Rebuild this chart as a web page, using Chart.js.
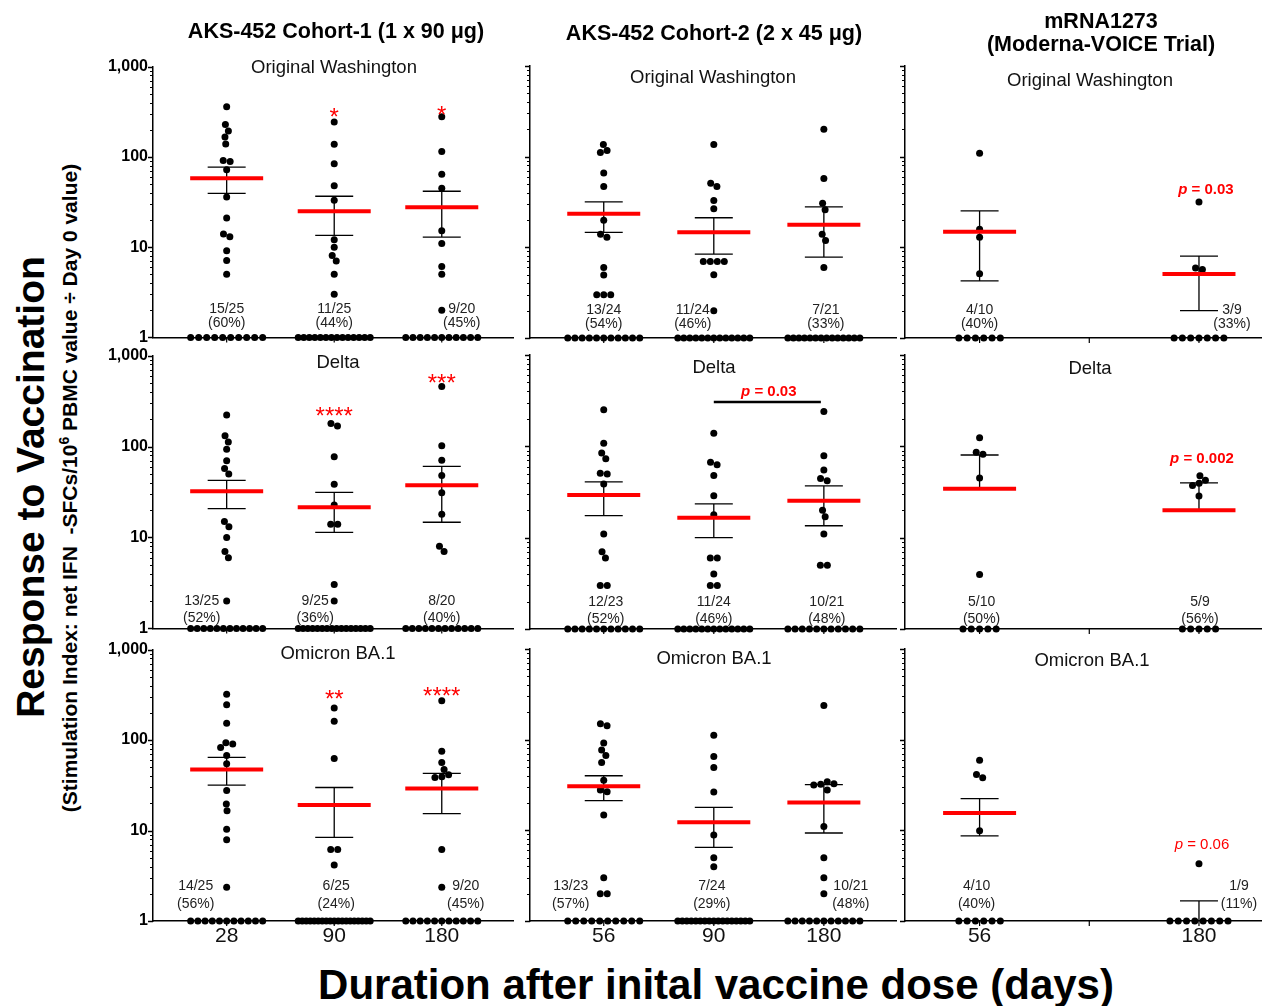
<!DOCTYPE html>
<html>
<head>
<meta charset="utf-8">
<script src="https://cdn.jsdelivr.net/npm/chart.js@4.4.0/dist/chart.umd.min.js"></script>
<style>
  body { margin: 0; background: #fff; font-family: Arial, "Liberation Sans", sans-serif; }
  #fig { position: relative; width: 1265px; height: 1006px; overflow: hidden; background: #fff; }
  #fig canvas { position: absolute; }
  .t { position: absolute; white-space: pre; color: #000; transform: translate(-50%, -50%); line-height: 1; }
  .colt { font-weight: bold; font-size: 21.5px; }
  .sub { font-size: 18.5px; color: #111; }
  .rot { transform: translate(-50%, -50%) rotate(-90deg); font-weight: bold; }
</style>
</head>
<body>
<div id="fig"></div>
<script>
// ---- data ----
const panelNames = ["Original Washington", "Delta", "Omicron BA.1"];
const dayLabels = [["28", "90", "180"], ["56", "90", "180"], ["56", "", "180"]];
const groupX = [[1, 2, 3], [1, 2, 3], [1, 3]];
const yTicks = [1, 10, 100, 1000];

// AKS-452 Cohort-1, Original Washington
const c1Wash = [[359, 228, 194, 166, 139, 91, 89, 72, 36, 21, 14, 13, 9.1, 7.1, 5],
                [244, 138, 84, 48, 33, 12.1, 10, 8.1, 7, 5, 3],
                [278, 115, 64, 45, 15.2, 11, 6.1, 5, 2]];
const c1WashN = [25, 25, 20];
const c1WashZero = [10, 14, 11];
const c1WashMean = [58, 24.9, 27.6];
const c1WashHi = [77, 36.6, 41.6];
const c1WashLo = [39.5, 13.5, 12.9];

// AKS-452 Cohort-2, Original Washington
const c2Wash = [[136, 117, 111, 66, 47, 19.9, 13.9, 12.9, 6, 4.95, 3, 3, 3],
                [136, 51, 47, 32.8, 26.6, 7, 7, 7, 7, 5, 2],
                [200, 57.5, 30.7, 26, 13.9, 11.9, 6]];
const c2WashN = [24, 24, 21];
const c2WashZero = [11, 13, 14];
const c2WashMean = [23.5, 14.7, 17.8];
const c2WashHi = [31.8, 21.2, 28];
const c2WashLo = [14.6, 8.4, 7.8];

// mRNA1273, Original Washington
const mWash = [[109, 15.8, 12.9, 5.1], [31.7, 5.9, 5.7]];
const mWashN = [10, 9];
const mWashZero = [6, 7];
const mWashMean = [14.9, 5.07];
const mWashHi = [25.3, 8.0];
const mWashLo = [4.26, 2.0];

// Cohort-1, Delta
const c1Delta = [[222, 131, 112, 93.5, 69.7, 57.4, 49.8, 15, 13.1, 10, 7, 6, 2],
                 [179, 168, 77, 38.4, 22.8, 14, 14, 3.03, 2],
                 [458, 102, 70.8, 48.1, 31.1, 18, 8, 7]];
const c1DeltaN = [25, 25, 20];
const c1DeltaZero = [12, 16, 12];
const c1DeltaMean = [32.2, 21.5, 37.4];
const c1DeltaHi = [42.4, 31.4, 60.4];
const c1DeltaLo = [20.8, 11.4, 14.7];

// Cohort-2, Delta
const c2Delta = [[251, 108, 84.6, 73.3, 50.8, 49.9, 38.8, 11, 7, 6, 3, 3],
                 [139, 66.9, 63, 47.9, 28.7, 17.8, 6, 6, 4, 3, 3],
                 [241, 79, 55.2, 44.4, 41.9, 19.9, 16.9, 11, 5, 5]];
const c2DeltaN = [23, 24, 21];
const c2DeltaZero = [11, 13, 11];
const c2DeltaMean = [29.4, 16.5, 25.3];
const c2DeltaHi = [40.8, 23.5, 36.9];
const c2DeltaLo = [17.4, 10, 13.5];

// mRNA1273, Delta
const mDelta = [[124, 86, 81.8, 45.1, 3.95], [47.5, 42.6, 39.5, 37.2, 28.5]];
const mDeltaN = [10, 9];
const mDeltaZero = [5, 5];
const mDeltaMean = [34.3, 19.9];
const mDeltaHi = [80.4, 39.8];
const mDeltaLo = [null, null];

// Cohort-1, Omicron BA.1
const c1Ba1 = [[320, 246, 153, 93.4, 90.3, 83, 67.6, 54.7, 27.7, 19.7, 16.5, 10.3, 7.9, 2.36],
               [226, 161, 62.7, 6.16, 6.16, 4.17],
               [272, 75, 56.6, 47.3, 41.3, 39.3, 38.6, 6.16, 2.36]];
const c1Ba1N = [25, 25, 20];
const c1Ba1Zero = [11, 19, 11];
const c1Ba1Mean = [47.3, 19.1, 29.2];
const c1Ba1Hi = [64.3, 29.9, 42.8];
const c1Ba1Lo = [31.8, 8.4, 15.4];

// Cohort-2, Omicron BA.1
const c2Ba1 = [[150, 142, 92, 77, 66.8, 56, 35.6, 27.9, 26.7, 14.8, 3, 2, 2],
               [112, 65.2, 49.3, 26.5, 8.9, 4.98, 3.97],
               [238, 34.4, 32.7, 32.2, 31.6, 27.9, 11, 4.98, 3, 2]];
const c2Ba1N = [23, 24, 21];
const c2Ba1Zero = [10, 17, 11];
const c2Ba1Mean = [30.6, 12.3, 20.3];
const c2Ba1Hi = [40, 17.9, 31.9];
const c2Ba1Lo = [21.3, 6.5, 9.35];

// mRNA1273, Omicron BA.1
const mBa1 = [[59.4, 41.4, 38.1, 9.9], [4.28]];
const mBa1N = [10, 9];
const mBa1Zero = [6, 8];
const mBa1Mean = [15.5, null];
const mBa1Hi = [22.4, 1.67];
const mBa1Lo = [8.7, null];

// ---- layout / styles ----
const FONT = 'Arial, "Liberation Sans", sans-serif';
const RED = '#ff0000';
const DOT_R = 3.5, DOT_D = 7;
const PAD_T = 14, PAD_R = 2;
const cols = [
  { axis: 153, right: 515, yw: 56, xmin: 0.315, xmax: 3.667 },
  { axis: 530, right: 898, yw: 12, xmin: 0.33, xmax: 3.66 },
  { axis: 905, right: 1263, yw: 12, xmin: 0.32, xmax: 3.57 }
];
const rows = [
  { top: 66, bottom: 338, xh: 14, lab: [28, 14] },
  { top: 355, bottom: 629, xh: 14, lab: [27, 10] },
  { top: 649, bottom: 921, xh: 36, lab: [35, 17] }
];

const panels = [
  { r: 0, c: 0, vals: c1Wash, n: c1WashN, zero: c1WashZero, mean: c1WashMean, hi: c1WashHi, lo: c1WashLo,
    shift: [0, 0, 20], sub: [334, 67], stars: [[1, 319, '*'], [2, 335, '*']] },
  { r: 0, c: 1, vals: c2Wash, n: c2WashN, zero: c2WashZero, mean: c2WashMean, hi: c2WashHi, lo: c2WashLo,
    shift: [0, -21, 2], sub: [713, 77] },
  { r: 0, c: 2, vals: mWash, n: mWashN, zero: mWashZero, mean: mWashMean, hi: mWashHi, lo: mWashLo,
    shift: [0, 33], sub: [1090, 80], pval: { g: 1, v: 42.9, dx: 7, text: '0.03', bold: true } },
  { r: 1, c: 0, vals: c1Delta, n: c1DeltaN, zero: c1DeltaZero, mean: c1DeltaMean, hi: c1DeltaHi, lo: c1DeltaLo,
    shift: [-25, -19, 0], sub: [338, 362], stars: [[1, 250, '****'], [2, 574, '***']] },
  { r: 1, c: 1, vals: c2Delta, n: c2DeltaN, zero: c2DeltaZero, mean: c2DeltaMean, hi: c2DeltaHi, lo: c2DeltaLo,
    shift: [2, 0, 3], sub: [714, 367], bracket: { from: 1, to: 2, v: 306, tv: 394, text: '0.03' } },
  { r: 1, c: 2, vals: mDelta, n: mDeltaN, zero: mDeltaZero, mean: mDeltaMean, hi: mDeltaHi, lo: mDeltaLo,
    shift: [2, 1], sub: [1090, 368], pval: { g: 1, v: 72.6, dx: 3, text: '0.002', bold: true } },
  { r: 2, c: 0, vals: c1Ba1, n: c1Ba1N, zero: c1Ba1Zero, mean: c1Ba1Mean, hi: c1Ba1Hi, lo: c1Ba1Lo,
    shift: [-31, 2, 24], sub: [338, 653], stars: [[1, 327, '**'], [2, 353, '****']] },
  { r: 2, c: 1, vals: c2Ba1, n: c2Ba1N, zero: c2Ba1Zero, mean: c2Ba1Mean, hi: c2Ba1Hi, lo: c2Ba1Lo,
    shift: [-33, -2, 27], sub: [714, 658] },
  { r: 2, c: 2, vals: mBa1, n: mBa1N, zero: mBa1Zero, mean: mBa1Mean, hi: mBa1Hi, lo: mBa1Lo,
    shift: [-3, 40], sub: [1092, 660], pval: { g: 1, v: 6.9, dx: 3, text: '0.06', bold: false } }
];

const fig = document.getElementById('fig');

function addText(html, x, y, cls, style) {
  const d = document.createElement('div');
  d.className = 't ' + (cls || '');
  d.innerHTML = html;
  d.style.left = x + 'px';
  d.style.top = y + 'px';
  if (style) d.style.cssText += style;
  fig.appendChild(d);
}

// beeswarm: place each dot as close to the centre as it can go without overlap
function swarm(pys) {
  const placed = [];
  pys.forEach(py => {
    const cands = [0];
    placed.forEach(q => {
      const dy = Math.abs(py - q.py);
      if (dy < DOT_D) {
        const dx = Math.sqrt(DOT_D * DOT_D - dy * dy);
        cands.push(q.x + dx, q.x - dx);
      }
    });
    cands.sort((a, b) => Math.abs(a) - Math.abs(b));
    const x = cands.find(cx => placed.every(q => Math.hypot(cx - q.x, py - q.py) >= DOT_D - 0.01));
    placed.push({ x, py });
  });
  // centre each touching cluster
  let start = 0;
  for (let i = 1; i <= placed.length; i++) {
    if (i === placed.length || placed[i].py - placed[i - 1].py >= DOT_D) {
      const cl = placed.slice(start, i);
      const mid = (Math.min(...cl.map(q => q.x)) + Math.max(...cl.map(q => q.x))) / 2;
      cl.forEach(q => { q.x -= mid; });
      start = i;
    }
  }
  return placed.map(q => q.x);
}

function spreadDots(chart, p) {
  const xs = chart.scales.x, ys = chart.scales.y;
  const ppu = xs.getPixelForValue(2) - xs.getPixelForValue(1);
  chart.data.datasets.forEach((ds, g) => {
    const cx = groupX[p.c][g];
    const resp = p.vals[g].slice().sort((a, b) => b - a);
    const offs = swarm(resp.map(v => ys.getPixelForValue(v)));
    const nz = p.zero[g];
    const step = nz > 1 ? Math.min(8.3, 72 / (nz - 1)) : 0;
    ds.data = resp.map((v, i) => ({ x: cx + offs[i] / ppu, y: v }))
      .concat(Array.from({ length: nz }, (_, i) => ({ x: cx + (i - (nz - 1) / 2) * step / ppu, y: 1 })));
  });
  chart.update('none');
}

function drawP(ctx, cx, cy, text, bold) {
  const b = bold ? 'bold ' : '';
  const f1 = 'italic ' + b + '15px ' + FONT, f2 = b + '15px ' + FONT;
  const rest = ' = ' + text;
  ctx.font = f1; const w1 = ctx.measureText('p').width;
  ctx.font = f2; const w2 = ctx.measureText(rest).width;
  const x0 = cx - (w1 + w2) / 2;
  ctx.fillStyle = RED;
  ctx.textAlign = 'left';
  ctx.textBaseline = 'middle';
  ctx.font = f1; ctx.fillText('p', x0, cy);
  ctx.font = f2; ctx.fillText(rest, x0 + w1, cy);
}

function decor(p) {
  const row = rows[p.r];
  return {
    id: 'decor',
    beforeDatasetsDraw(chart) {
      const ctx = chart.ctx, xs = chart.scales.x, ys = chart.scales.y, a = chart.chartArea;
      ctx.save();
      ctx.strokeStyle = '#000';
      // y tick marks (major + minor, log)
      for (let d = 1; d <= 1000; d *= 10) {
        for (let k = 1; k <= (d === 1000 ? 1 : 9); k++) {
          const py = Math.round(ys.getPixelForValue(d * k)) + 0.5;
          ctx.lineWidth = k === 1 ? 1.5 : 1;
          ctx.beginPath();
          ctx.moveTo(a.left, py);
          ctx.lineTo(a.left - (k === 1 ? 5 : 3), py);
          ctx.stroke();
        }
      }
      // x tick marks
      ctx.lineWidth = 1.2;
      [1, 2, 3].forEach(v => {
        const px = xs.getPixelForValue(v);
        if (px > a.right) return;
        ctx.beginPath();
        ctx.moveTo(px, a.bottom);
        ctx.lineTo(px, a.bottom + 5);
        ctx.stroke();
      });
      // error bars
      ctx.lineWidth = 1.3;
      p.hi.forEach((hi, g) => {
        const px = xs.getPixelForValue(groupX[p.c][g]);
        const lo = p.lo[g];
        const yHi = ys.getPixelForValue(hi);
        const yLo = ys.getPixelForValue(lo != null ? lo : (p.mean[g] != null ? p.mean[g] : 1));
        ctx.beginPath();
        ctx.moveTo(px, yHi); ctx.lineTo(px, yLo);
        ctx.moveTo(px - 19, yHi); ctx.lineTo(px + 19, yHi);
        if (lo != null) { ctx.moveTo(px - 19, yLo); ctx.lineTo(px + 19, yLo); }
        ctx.stroke();
      });
      ctx.restore();
    },
    afterDatasetsDraw(chart) {
      const ctx = chart.ctx, xs = chart.scales.x, ys = chart.scales.y, a = chart.chartArea;
      ctx.save();
      // mean lines
      ctx.strokeStyle = RED;
      ctx.lineWidth = 4;
      p.mean.forEach((m, g) => {
        if (m == null) return;
        const px = xs.getPixelForValue(groupX[p.c][g]);
        const py = ys.getPixelForValue(m);
        ctx.beginPath();
        ctx.moveTo(px - 36.5, py); ctx.lineTo(px + 36.5, py);
        ctx.stroke();
      });
      // responder counts
      ctx.fillStyle = '#222';
      ctx.font = '14px ' + FONT;
      ctx.textAlign = 'center';
      ctx.textBaseline = 'middle';
      p.n.forEach((tot, g) => {
        const k = p.vals[g].length;
        const px = xs.getPixelForValue(groupX[p.c][g]) + p.shift[g];
        ctx.fillText(k + '/' + tot, px, a.bottom - row.lab[0]);
        ctx.fillText('(' + Math.round(100 * k / tot) + '%)', px, a.bottom - row.lab[1]);
      });
      // significance stars
      (p.stars || []).forEach(([g, v, s]) => {
        ctx.fillStyle = RED;
        ctx.font = '24px ' + FONT;
        ctx.textBaseline = 'alphabetic';
        ctx.fillText(s, xs.getPixelForValue(groupX[p.c][g]), ys.getPixelForValue(v) + 13.5);
      });
      if (p.pval) {
        drawP(ctx, xs.getPixelForValue(groupX[p.c][p.pval.g]) + p.pval.dx, ys.getPixelForValue(p.pval.v), p.pval.text, p.pval.bold);
      }
      if (p.bracket) {
        const b = p.bracket;
        const x1 = xs.getPixelForValue(groupX[p.c][b.from]), x2 = xs.getPixelForValue(groupX[p.c][b.to]);
        const by = ys.getPixelForValue(b.v);
        ctx.strokeStyle = '#000';
        ctx.lineWidth = 2.5;
        ctx.beginPath(); ctx.moveTo(x1, by); ctx.lineTo(x2 - 3, by); ctx.stroke();
        drawP(ctx, (x1 + x2) / 2, ys.getPixelForValue(b.tv), b.text, true);
      }
      ctx.restore();
    }
  };
}

function makeChart(p) {
  const col = cols[p.c], row = rows[p.r];
  const left = col.axis - col.yw, top = row.top - PAD_T;
  const cv = document.createElement('canvas');
  cv.width = col.right - left + PAD_R;
  cv.height = row.bottom - top + row.xh;
  cv.style.left = left + 'px';
  cv.style.top = top + 'px';
  fig.appendChild(cv);

  const datasets = p.vals.map((vals, g) => ({
    data: vals.map(v => ({ x: groupX[p.c][g], y: v })),
    pointRadius: DOT_R,
    pointBackgroundColor: '#000',
    pointBorderWidth: 0,
    pointHoverRadius: DOT_R,
    showLine: false,
    clip: false
  }));

  const chart = new Chart(cv, {
    type: 'scatter',
    data: { datasets },
    options: {
      responsive: false,
      animation: false,
      devicePixelRatio: 1,
      events: [],
      layout: { padding: { top: PAD_T, right: PAD_R, left: 0, bottom: 0 } },
      plugins: { legend: { display: false }, tooltip: { enabled: false } },
      scales: {
        x: {
          type: 'linear', min: col.xmin, max: col.xmax,
          grid: { display: false, drawTicks: false },
          border: { display: true, color: '#000', width: 1.5 },
          afterBuildTicks: s => { s.ticks = [1, 2, 3].map(v => ({ value: v })); },
          afterFit: s => { s.height = row.xh; },
          ticks: {
            display: p.r === 2, autoSkip: false, maxRotation: 0, padding: 3,
            color: '#111', font: { family: FONT, size: 21 },
            callback: (v, i) => dayLabels[p.c][i]
          }
        },
        y: {
          type: 'logarithmic', min: 1, max: 1000,
          grid: { display: false, drawTicks: false },
          border: { display: true, color: '#000', width: 1.5 },
          afterBuildTicks: s => { s.ticks = yTicks.map(v => ({ value: v, major: true })); },
          afterFit: s => { s.width = col.yw; },
          ticks: {
            display: p.c === 0, padding: 5,
            color: '#000', font: { family: FONT, size: 16, weight: 'bold' },
            callback: v => Number(v).toLocaleString('en-US')
          }
        }
      }
    },
    plugins: [decor(p)]
  });
  spreadDots(chart, p);
}

panels.forEach(p => {
  makeChart(p);
  addText(panelNames[p.r], p.sub[0], p.sub[1], 'sub');
});

// titles
addText('AKS-452 Cohort-1 (1 x 90 \u03bcg)', 336, 32, 'colt');
addText('AKS-452 Cohort-2 (2 x 45 \u03bcg)', 714, 34, 'colt');
addText('mRNA1273', 1101, 22, 'colt');
addText('(Moderna-VOICE Trial)', 1101, 45, 'colt');
addText('Duration after inital vaccine dose (days)', 716, 985, '', 'font-weight:bold;font-size:42px;');
addText('Response to Vaccination', 30, 487, 'rot', 'font-size:39px;');
addText('(Stimulation Index: net IFN  -SFCs/10<sup style="font-size:14px;vertical-align:8px;line-height:0">6</sup> PBMC value \u00f7 Day 0 value)',
  69, 488, 'rot', 'font-size:21px;');
</script>
</body>
</html>
